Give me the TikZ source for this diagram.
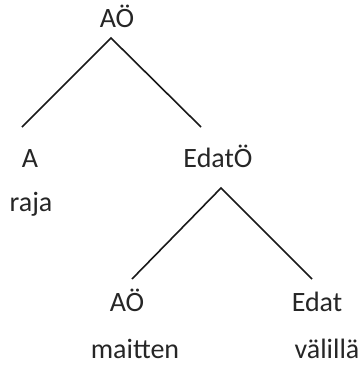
\documentclass[tikz,border=0pt]{standalone}
\usepackage{fontspec}
\setmainfont{Carlito}
\begin{document}
\begin{tikzpicture}[x=1pt,y=-1pt,
  lbl/.style={anchor=base,inner sep=0pt,font=\fontsize{28}{30}\selectfont,text=black!85},
  branch/.style={line width=1.6pt,black!90}]
\useasboundingbox (0,0) rectangle (359,367);
\node[lbl] (root) at (117,27) {AÖ};
\node[lbl] (a) at (30,167) {A};
\node[lbl] (edato) at (218,167) {EdatÖ};
\node[lbl] (raja) at (31,211) {raja};
\node[lbl] (ao) at (127,311) {AÖ};
\node[lbl] (edat) at (317,311) {Edat};
\node[lbl] (maitten) at (135,358) {maitten};
\node[lbl] (valilla) at (327,358) {välillä};
\coordinate (r1) at (111,38);
\coordinate (r1l) at (22,127);
\coordinate (r1r) at (201,127);
\coordinate (r2) at (221,188);
\coordinate (r2l) at (132,279);
\coordinate (r2r) at (312,279);
\draw[branch] (r1l) -- (r1) -- (r1r);
\draw[branch] (r2l) -- (r2) -- (r2r);
\end{tikzpicture}
\end{document}
